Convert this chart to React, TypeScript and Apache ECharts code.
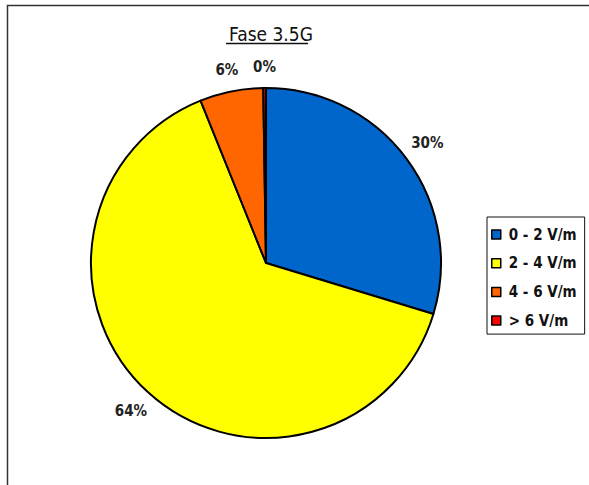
import React, { useEffect, useRef } from "react";
import * as echarts from "echarts";

const titleText = "Fase 3.5G";
const categories = ["0 - 2 V/m", "2 - 4 V/m", "4 - 6 V/m", "> 6 V/m"];
const values = [29.7, 64.2, 5.85, 0.25];
const colors = ["#0066CC", "#FFFF00", "#FF6600", "#FF0000"];

const FONT = "'Liberation Sans Narrow', 'DejaVu Sans Condensed', 'Arial Narrow', sans-serif";

export default function App() {
  const ref = useRef<HTMLDivElement>(null);
  useEffect(() => {
    if (!ref.current) return;
    const chart = echarts.init(ref.current, null, { renderer: "svg" });
    const cx = 266;
    const cy = 263;
    const r = 175;
    const total = values.reduce((a, b) => a + b, 0);
    const mids: number[] = [];
    let acc = 0;
    values.forEach((v) => {
      mids.push((acc + v / 2) / total);
      acc += v;
    });
    chart.setOption({
      animation: false,
      backgroundColor: "#ffffff",
      graphic: [
        {
          type: "rect",
          shape: { x: 7.5, y: 5.5, width: 700, height: 600 },
          style: { fill: "none", stroke: "#333", lineWidth: 1.5 },
          silent: true,
        },
        {
          type: "line",
          shape: { x1: 226, y1: 43.5, x2: 308, y2: 43.5 },
          style: { stroke: "#111", lineWidth: 1.5 },
          silent: true,
        },
      ],
      title: {
        text: titleText,
        left: 266,
        textAlign: "center",
        top: 19,
        textStyle: { fontFamily: FONT, fontSize: 19, fontWeight: "normal", color: "#111" },
      },
      legend: {
        orient: "vertical",
        left: 487,
        top: 217,
        data: categories,
        icon: "rect",
        itemWidth: 9,
        itemHeight: 9,
        itemGap: 13.7,
        padding: [10, 8, 6, 4],
        borderColor: "#111",
        borderWidth: 1,
        itemStyle: { borderColor: "#000", borderWidth: 1.5 },
        textStyle: {
          fontFamily: FONT,
          fontSize: 15,
          fontWeight: "bold",
          color: "#111",
          lineHeight: 14,
          padding: [0, 0, 0, 3],
        },
      },
      series: [
        {
          type: "pie",
          center: [cx, cy],
          radius: r,
          startAngle: 90,
          clockwise: true,
          data: categories.map((name, i) => ({
            name,
            value: values[i],
            itemStyle: { color: colors[i] },
          })),
          itemStyle: { borderColor: "#000", borderWidth: 2 },
          label: {
            show: true,
            position: "outside",
            formatter: (p: any) => Math.round(p.percent) + "%",
            fontFamily: FONT,
            fontSize: 15,
            fontWeight: "bold",
            color: "#222",
          },
          labelLine: { show: false },
          labelLayout: (p: any) => {
            const a = mids[p.dataIndex] * Math.PI * 2;
            const d = r + 21 + 6 * Math.abs(Math.sin(a));
            return {
              x: cx + Math.sin(a) * d,
              y: cy - Math.cos(a) * d,
              align: "center",
              verticalAlign: "middle",
            };
          },
          emphasis: { disabled: true },
        },
      ],
    });
    return () => chart.dispose();
  }, []);
  return (
    <div
      ref={ref}
      style={{ position: "fixed", left: 0, top: 0, width: 589, height: 485 }}
    />
  );
}
